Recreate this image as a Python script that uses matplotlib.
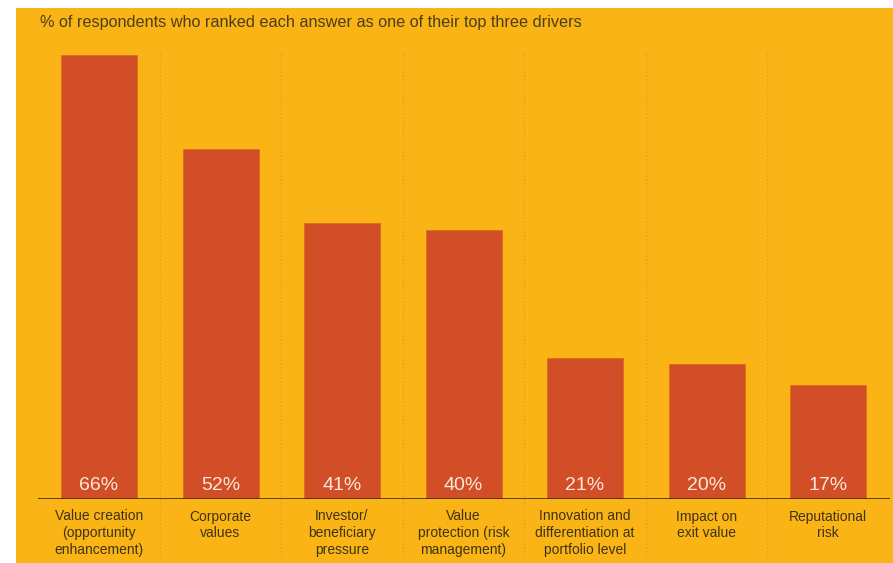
import matplotlib.pyplot as plt
from matplotlib.patches import Rectangle

plt.rcParams['font.family'] = ['Liberation Sans', 'DejaVu Sans']

# data
categories = ['Value creation\n(opportunity\nenhancement)', 'Corporate\nvalues',
              'Investor/\nbeneficiary\npressure', 'Value\nprotection (risk\nmanagement)',
              'Innovation and\ndifferentiation at\nportfolio level', 'Impact on\nexit value',
              'Reputational\nrisk']
values = [66, 52, 41, 40, 21, 20, 17]

bg = '#FBB415'
bar_col = '#D14E27'
txt_col = '#3d3413'

W, H = 893, 563
fig = plt.figure(figsize=(W / 100, H / 100), dpi=100, facecolor='white')
fig.patches.append(Rectangle((16 / W, 0), 1 - 16 / W, 1 - 8 / H, transform=fig.transFigure,
                             facecolor=bg, edgecolor='none', zorder=-10))

# axes spans baseline (y=499px) to top of tallest bar (y=54.5px)
step = 121.5
left, right = 38, 890
ax = fig.add_axes([left / W, (H - 499) / H, (right - left) / W, (499 - 54.5) / H])
ax.set_facecolor('none')
ax.set_xlim((left - 99) / step, (right - 99) / step)
ax.set_ylim(0, 66)
px = 66 / (499 - 54.5)  # data units per pixel

x = list(range(len(values)))
ax.bar(x, values, width=76 / step, color=bar_col, edgecolor='#E06A22', linewidth=0.6, zorder=2)

# dotted separators
for i in range(len(values) - 1):
    ax.plot([i + 0.5, i + 0.5], [66.1, -58 * px], color='#EE9A1E', lw=1.0,
            linestyle=(0, (1, 1.5)), clip_on=False, zorder=1)

ax.axhline(0, color='#3a3010', lw=1.2, zorder=3)

for xi, v in zip(x, values):
    ax.text(xi, 14 * px, f'{v}%', ha='center', va='center', color='#FBE9DD',
            fontsize=14, zorder=4)

for xi, c in zip(x, categories):
    ax.text(xi, -10.5 * px, c, ha='center', va='top', color=txt_col, fontsize=10,
            linespacing=1.27, clip_on=False)

fig.text(40 / W, 1 - 23 / H, '% of respondents who ranked each answer as one of their top three drivers',
         ha='left', va='center', color='#4a3f18', fontsize=11.7)

ax.axis('off')
fig.savefig('out.png', dpi=100, facecolor='white')
